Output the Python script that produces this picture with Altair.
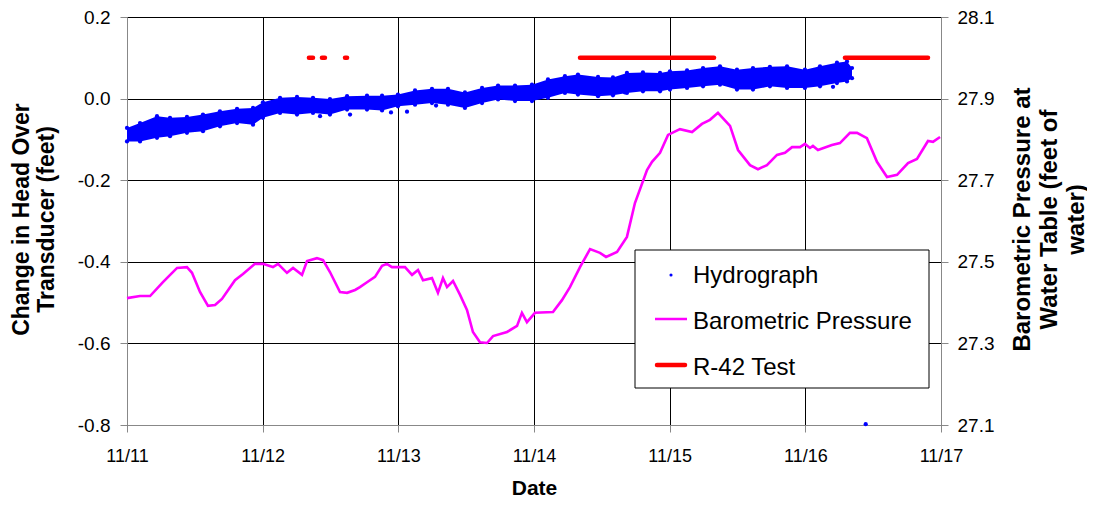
import json
import altair as alt
import pandas as pd

# ---------------- data ----------------
# x positions are days after 11/11 00:00
date_labels = ["11/11", "11/12", "11/13", "11/14", "11/15", "11/16", "11/17"]
day_ticks = [0, 1, 2, 3, 4, 5, 6]
head_ticks = [-0.8, -0.6, -0.4, -0.2, 0.0, 0.2]
baro_ticks = [27.1, 27.3, 27.5, 27.7, 27.9, 28.1]

# Hydrograph: upper / lower edge of the dense point cloud
hydro_day = [0.000, 0.096, 0.221, 0.317, 0.442, 0.560, 0.685, 0.811, 0.929, 1.002,
             1.128, 1.253, 1.371, 1.496, 1.622, 1.769, 1.880, 1.997, 2.123, 2.248,
             2.366, 2.491, 2.617, 2.735, 2.860, 2.985, 3.103, 3.228, 3.324, 3.472,
             3.582, 3.685, 3.803, 3.929, 4.002, 4.128, 4.246, 4.371, 4.496, 4.614,
             4.739, 4.865, 4.997, 5.108, 5.233, 5.307, 5.344]
hydro_hi = [-0.072, -0.060, -0.043, -0.047, -0.045, -0.039, -0.031, -0.025, -0.023, -0.009,
            0.002, 0.004, 0.002, -0.001, 0.006, 0.007, 0.007, 0.010, 0.020, 0.024,
            0.024, 0.015, 0.026, 0.032, 0.032, 0.034, 0.047, 0.055, 0.059, 0.053,
            0.052, 0.063, 0.064, 0.063, 0.067, 0.069, 0.075, 0.079, 0.071, 0.075,
            0.078, 0.079, 0.071, 0.079, 0.088, 0.091, 0.075]
hydro_lo = [-0.105, -0.105, -0.096, -0.092, -0.084, -0.080, -0.068, -0.060, -0.064, -0.047,
            -0.035, -0.039, -0.035, -0.039, -0.027, -0.027, -0.029, -0.019, -0.015, -0.011,
            -0.015, -0.023, -0.011, -0.002, -0.006, -0.006, 0.002, 0.014, 0.010, 0.006,
            0.008, 0.014, 0.018, 0.018, 0.022, 0.026, 0.030, 0.034, 0.022, 0.022,
            0.030, 0.026, 0.026, 0.030, 0.038, 0.042, 0.050]
outlier_day = [1.423, 1.644, 1.946, 2.064, 2.278, 3.670, 5.204, 5.445]
outlier_val = [-0.043, -0.039, -0.034, -0.032, -0.017, 0.015, 0.029, -0.798]

# Barometric pressure (feet of water, right axis)
baro_day = [0.000, 0.096, 0.170, 0.265, 0.369, 0.442, 0.479, 0.538, 0.597, 0.649,
            0.700, 0.796, 0.855, 0.943, 1.002, 1.076, 1.113, 1.179, 1.224, 1.290,
            1.327, 1.400, 1.445, 1.496, 1.570, 1.622, 1.681, 1.717, 1.769, 1.828,
            1.880, 1.916, 1.953, 1.997, 2.049, 2.101, 2.145, 2.182, 2.248, 2.292,
            2.329, 2.359, 2.403, 2.455, 2.506, 2.550, 2.602, 2.654, 2.698, 2.801,
            2.875, 2.911, 2.948, 3.007, 3.140, 3.206, 3.265, 3.339, 3.413, 3.486,
            3.531, 3.612, 3.685, 3.744, 3.833, 3.870, 3.929, 3.988, 4.076, 4.165,
            4.238, 4.297, 4.356, 4.445, 4.504, 4.592, 4.651, 4.717, 4.791, 4.850,
            4.902, 4.961, 4.997, 5.034, 5.056, 5.093, 5.196, 5.255, 5.329, 5.381,
            5.454, 5.528, 5.602, 5.676, 5.757, 5.823, 5.904, 5.941, 5.993]
baro_val = [27.411, 27.416, 27.416, 27.450, 27.485, 27.487, 27.473, 27.426, 27.392, 27.394,
            27.409, 27.455, 27.470, 27.495, 27.495, 27.487, 27.495, 27.473, 27.485, 27.468,
            27.502, 27.509, 27.504, 27.475, 27.426, 27.424, 27.431, 27.438, 27.450, 27.463,
            27.490, 27.495, 27.487, 27.487, 27.487, 27.468, 27.480, 27.455, 27.460, 27.424,
            27.460, 27.438, 27.453, 27.419, 27.382, 27.328, 27.303, 27.301, 27.318, 27.328,
            27.343, 27.375, 27.352, 27.375, 27.377, 27.406, 27.438, 27.487, 27.531, 27.522,
            27.512, 27.524, 27.561, 27.644, 27.725, 27.745, 27.767, 27.811, 27.825, 27.818,
            27.838, 27.848, 27.865, 27.833, 27.774, 27.737, 27.727, 27.737, 27.762, 27.767,
            27.781, 27.781, 27.789, 27.779, 27.784, 27.774, 27.786, 27.791, 27.816, 27.816,
            27.803, 27.745, 27.708, 27.713, 27.742, 27.752, 27.796, 27.794, 27.806]

# R-42 test periods (plotted at 0.1 on the left axis)
r42_start = [1.341, 1.437, 1.607, 3.339, 5.292]
r42_end = [1.371, 1.459, 1.622, 4.327, 5.904]
r42_level = [0.1, 0.1, 0.1, 0.1, 0.1]

legend_labels = ["Hydrograph", "Barometric Pressure", "R-42 Test"]

# ---------------- tables ----------------
band_df = pd.DataFrame({"day": hydro_day, "hi": hydro_hi, "lo": hydro_lo})
pts_df = pd.DataFrame({
    "day": hydro_day + hydro_day + outlier_day,
    "head": hydro_hi + hydro_lo + outlier_val,
})
baro_df = pd.DataFrame({"day": baro_day, "baro": baro_val})
r42_df = pd.DataFrame({"start": r42_start, "end": r42_end, "level": r42_level})

FONT = "Liberation Sans"
BLUE = "#0000FF"
MAGENTA = "#FF00FF"
RED = "#FF0000"
W, H = 814, 408

x_axis = alt.Axis(
    values=day_ticks,
    labelExpr=json.dumps(date_labels) + "[round(datum.value)]",
    title="Date", titleFontSize=21, titleFontWeight="bold",
    titleY=63, titleBaseline="middle",
    grid=True, gridColor="#000000", gridWidth=1,
    tickSize=7, labelPadding=15, labelFontSize=18, labelFlush=False,
    zindex=0,
)
x_scale = alt.Scale(domain=[0, 6], nice=False, zero=False)

left_axis = alt.Axis(
    values=head_ticks,
    labelExpr="replace(format(datum.value, '.1f'), '\u2212', '-')",
    title=["Change in Head Over", "Transducer (feet)"],
    titleFontSize=23, titleFontWeight="bold", titleAngle=270,
    titleX=-106, titleY=H / 2 - 2, titleAlign="center", titleBaseline="middle",
    titleLineHeight=25,
    grid=True, gridColor="#000000", gridWidth=1,
    tickSize=7, labelPadding=10, labelFontSize=19,
    zindex=0,
)
left_scale = alt.Scale(domain=[-0.8, 0.2], nice=False, zero=False)

right_axis = alt.Axis(
    values=baro_ticks, format=".1f", orient="right",
    title=["Barometric Pressure at", "Water Table (feet of", "water)"],
    titleFontSize=24, titleFontWeight="bold", titleAngle=270,
    titleX=81, titleY=H / 2 - 2, titleAlign="center", titleBaseline="middle",
    titleLineHeight=27,
    grid=False, tickSize=7, labelPadding=9, labelFontSize=19,
    zindex=0,
)
right_scale = alt.Scale(domain=[27.1, 28.1], nice=False, zero=False)

band = alt.Chart(band_df).mark_area(color=BLUE, opacity=1).encode(
    x=alt.X("day:Q", scale=x_scale, axis=x_axis),
    y=alt.Y("lo:Q", scale=left_scale, axis=left_axis),
    y2="hi:Q",
)
dots = alt.Chart(pts_df).mark_circle(color=BLUE, opacity=1, size=18).encode(
    x=alt.X("day:Q", scale=x_scale, axis=x_axis),
    y=alt.Y("head:Q", scale=left_scale, axis=left_axis),
)
r42 = alt.Chart(r42_df).mark_rule(color=RED, strokeWidth=4.5, strokeCap="round").encode(
    x=alt.X("start:Q", scale=x_scale, axis=x_axis),
    x2="end:Q",
    y=alt.Y("level:Q", scale=left_scale, axis=left_axis),
)
left_group = alt.layer(band, dots, r42)

baro = alt.Chart(baro_df).mark_line(color=MAGENTA, strokeWidth=2.6).encode(
    x=alt.X("day:Q", scale=x_scale, axis=x_axis),
    y=alt.Y("baro:Q", scale=right_scale, axis=right_axis),
)

one = alt.Data(values=[{}])
leg_box = alt.Chart(one).mark_rect(fill="white", stroke="#000000", strokeWidth=1).encode(
    x=alt.value(508), x2=alt.value(802), y=alt.value(233), y2=alt.value(371)
)
leg_dot = alt.Chart(one).mark_circle(color=BLUE, opacity=1, size=10).encode(
    x=alt.value(544), y=alt.value(258)
)
leg_line = alt.Chart(one).mark_rule(color=MAGENTA, strokeWidth=2.5).encode(
    x=alt.value(528), x2=alt.value(560), y=alt.value(302)
)
leg_red = alt.Chart(one).mark_rule(color=RED, strokeWidth=4.5, strokeCap="round").encode(
    x=alt.value(530), x2=alt.value(558), y=alt.value(348)
)
leg_texts = [
    alt.Chart(one).mark_text(align="left", baseline="middle", fontSize=24, font=FONT,
                             color="#000000").encode(
        x=alt.value(566), y=alt.value(yy), text=alt.value(lbl)
    )
    for lbl, yy in zip(legend_labels, [259, 305, 351])
]

chart = alt.layer(
    left_group, baro, leg_box, leg_dot, leg_line, leg_red, *leg_texts
).resolve_scale(y="independent").properties(
    width=W, height=H,
    autosize=alt.AutoSizeParams(type="none"),
    padding={"left": 119, "top": 9, "right": 146, "bottom": 74},
).configure_view(stroke=None).configure_axis(
    labelFont=FONT, titleFont=FONT, labelColor="#000000", titleColor="#000000",
    tickColor="#000000", domainColor="#000000", domainWidth=1, tickWidth=1,
).configure(background="white")

chart.save("out.html", embed_options={"renderer": "svg", "actions": False})
